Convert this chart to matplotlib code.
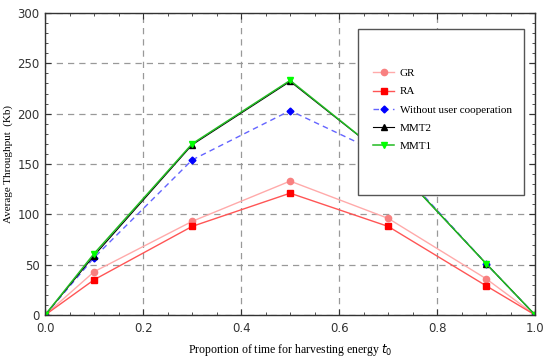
import numpy as np
import matplotlib
matplotlib.use('Agg')
import matplotlib.pyplot as plt
from matplotlib.patches import Rectangle
from matplotlib.ticker import MultipleLocator

# data
t0 = [0.0, 0.1, 0.3, 0.5, 0.7, 0.9, 1.0]
gr = [0, 43, 93, 133, 96, 36, 0]
ra = [0, 35, 88, 121, 88, 29, 0]
no_coop = [0, 57, 154, 203, 157, 51, 0]
mmt2 = [0, 59, 169, 232, 155, 51, 0]
mmt1 = [0, 61, 170, 233, 155, 51, 0]

serif = ['Liberation Serif', 'DejaVu Serif']

fig = plt.figure(figsize=(5.5, 3.6), dpi=100)
ax = fig.add_axes([0.082, 0.125, 0.891, 0.839])

ax.plot(t0, gr, color='#ffaaaa', lw=1.0, marker='o', ms=4.5, mfc='#f88080', mec='#f88080', label='GR')
ax.plot(t0, ra, color='#ff5555', lw=1.0, marker='s', ms=4, mfc='#ff0000', mec='#ff0000', label='RA')
ax.plot(t0, no_coop, color='#6464ff', lw=1.0, ls=(0, (4, 3)), marker='D', ms=3.5, mfc='#0000ff', mec='#0000ff',
        label='Without user cooperation')
ax.plot(t0, mmt2, color='black', lw=0.8, marker='^', ms=4, mfc='black', mec='black', label='MMT2')
ax.plot(t0, mmt1, color='#22bb22', lw=1.1, marker='v', ms=4.5, mfc='#00ff00', mec='#00ff00', label='MMT1')

ax.set_xlim(0, 1.0)
ax.set_ylim(0, 300)
ax.xaxis.set_major_locator(MultipleLocator(0.2))
ax.xaxis.set_minor_locator(MultipleLocator(0.05))
ax.yaxis.set_major_locator(MultipleLocator(50))
ax.yaxis.set_minor_locator(MultipleLocator(10))
ax.tick_params(which='both', direction='in', top=True, right=True, labelsize=8.5, colors='#333333')
ax.tick_params(axis='x', pad=5)
ax.tick_params(axis='y', pad=4)
ax.tick_params(which='major', length=4)
ax.tick_params(which='minor', length=2)
ax.xaxis.set_major_formatter(matplotlib.ticker.FormatStrFormatter('%.1f'))
ax.grid(True, which='major', color='#999999', ls=(0, (5, 4)), lw=0.9)
for s in ax.spines.values():
    s.set_color('#333333')
    s.set_linewidth(1.0)

ax.set_xlabel('Proportion of time for harvesting energy $t_0$', family=serif, fontsize=8.5, labelpad=5)
ax.set_ylabel('Average Throughput  (Kb)', family=serif, fontsize=8, labelpad=3)

# legend box is larger than its entries in the reference
ax.add_patch(Rectangle((0.639, 0.397), 0.339, 0.55, transform=ax.transAxes, facecolor='white',
                       edgecolor='#555555', lw=1.0, zorder=5))
leg = ax.legend(loc='center left', bbox_to_anchor=(0.66, 0.68), frameon=False,
                prop={'family': serif, 'size': 8}, handlelength=1.9, handletextpad=0.5,
                labelspacing=0.75, borderaxespad=0)
leg.set_zorder(6)

plt.savefig('out.png', dpi=100)
